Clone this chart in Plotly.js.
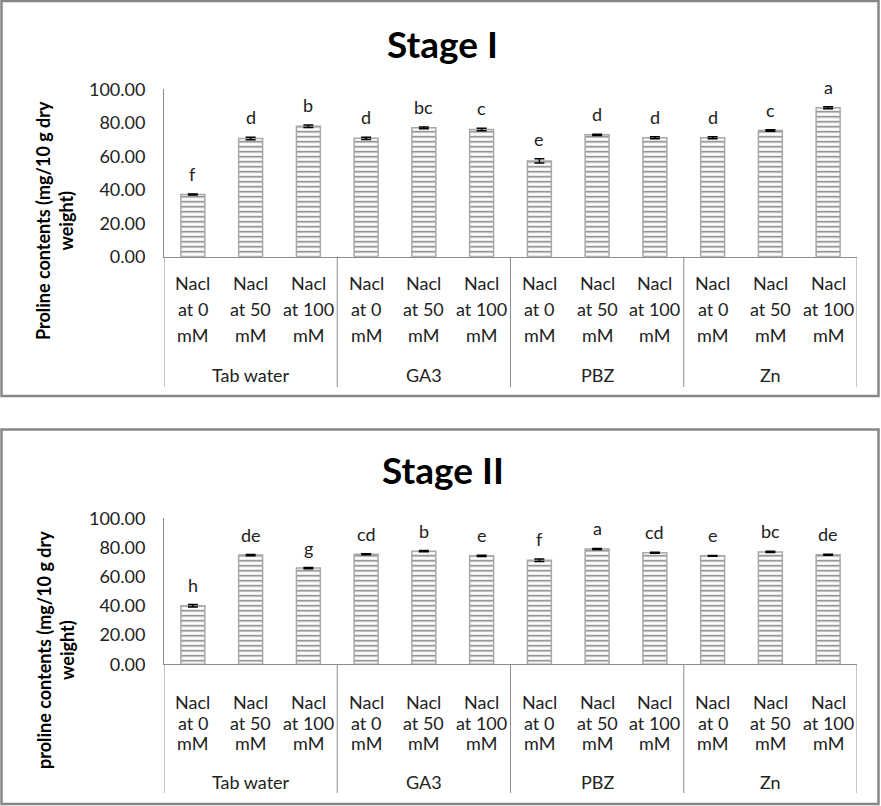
<!DOCTYPE html>
<html>
<head>
<meta charset="utf-8">
<script src="https://cdn.plot.ly/plotly-3.0.1.min.js"></script>
<style>html,body{margin:0;padding:0;background:#fff;}#chart{width:881px;height:806px;}</style>
</head>
<body>
<div id="chart"></div>
<script>
// ---- data ----
const groups = ["Tab water", "GA3", "PBZ", "Zn"];
const levels = ["Nacl<br>at 0<br>mM", "Nacl<br>at 50<br>mM", "Nacl<br>at 100<br>mM"];
const stage1Values = [37.2, 70.6, 77.9, 70.7, 77.0, 76.0, 57.2, 72.8, 71.0, 71.0, 75.4, 89.0];
const stage1Errors = [0.3, 0.7, 0.7, 0.7, 0.5, 0.7, 1.3, 0.4, 0.6, 0.6, 0.4, 0.6];
const stage1Letters = ["f", "d", "b", "d", "bc", "c", "e", "d", "d", "d", "c", "a"];
const stage2Values = [40.1, 74.8, 65.9, 75.4, 77.5, 74.3, 71.3, 79.0, 76.4, 74.3, 77.0, 75.0];
const stage2Errors = [0.8, 0.4, 0.4, 0.3, 0.4, 0.4, 0.9, 0.4, 0.4, 0.3, 0.4, 0.3];
const stage2Letters = ["h", "de", "g", "cd", "b", "e", "f", "a", "cd", "e", "bc", "de"];
const stageTitles = ["Stage I", "Stage II"];
const yTitles = ["Proline contents (mg/10 g dry<br>weight)", "proline contents (mg/10 g dry<br>weight)"];

// ---- layout helpers ----
const W = 881, H = 806;
const px = x => x / W;
const py = y => 1 - y / H;
const FONT = "Lato, 'Liberation Sans', sans-serif";

const cats = [];
groups.forEach(g => levels.forEach(l => cats.push(l)));
const idx = cats.map((_, i) => i);

const stages = [
  {vals: stage1Values, errs: stage1Errors, letters: stage1Letters, xa: 'x', ya: 'y',
   top: 89.3, bottom: 256.7, lineYs: [283, 309.5, 335], groupY: 375, sepBottom: 387,
   titleY: 44, yTitleY: 221, frame: [1, 396]},
  {vals: stage2Values, errs: stage2Errors, letters: stage2Letters, xa: 'x2', ya: 'y2',
   top: 518.3, bottom: 664.3, lineYs: [702, 723, 743], groupY: 782, sepBottom: 793,
   titleY: 470, yTitleY: 650, frame: [429.5, 804]}
];

const data = [];
const annotations = [];
const shapes = [];
const layout = {
  width: W, height: H,
  margin: {l: 0, r: 0, t: 0, b: 0},
  paper_bgcolor: '#fff', plot_bgcolor: '#fff',
  showlegend: false,
  bargap: 0.585,
  font: {family: FONT, size: 18, color: '#222'},
  annotations: annotations,
  shapes: shapes
};

stages.forEach((s, k) => {
  data.push({
    type: 'bar', x: idx, y: s.vals, xaxis: s.xa, yaxis: s.ya,
    marker: {
      color: '#ffffff',
      pattern: {shape: '-', fgcolor: '#7a7a7a', bgcolor: '#ffffff', size: 5, solidity: 0.3},
      line: {color: '#a8a8a8', width: 1.5}
    },
    error_y: {type: 'data', array: s.errs, visible: true, color: '#000', thickness: 1.5, width: 5},
    hoverinfo: 'skip'
  });
  const xName = k === 0 ? 'xaxis' : 'xaxis2';
  const yName = k === 0 ? 'yaxis' : 'yaxis2';
  layout[xName] = {
    domain: [px(164), px(857)], range: [-0.5, 11.5], anchor: s.ya,
    showticklabels: false, ticks: '', showgrid: false, zeroline: false,
    showline: true, linecolor: '#8c8c8c', linewidth: 1, fixedrange: true
  };
  layout[yName] = {
    domain: [py(s.bottom), py(s.top)], range: [0, 100], anchor: s.xa,
    dtick: 20, tickformat: '.2f', ticks: '', ticklabelstandoff: 14,
    tickfont: {family: FONT, size: 18, color: '#222'},
    showgrid: false, zeroline: false,
    showline: true, linecolor: '#8c8c8c', linewidth: 1, fixedrange: true
  };
  // title
  annotations.push({
    text: '<b>' + stageTitles[k] + '</b>', xref: 'paper', yref: 'paper',
    x: px(443), y: py(s.titleY), xanchor: 'center', yanchor: 'middle',
    showarrow: false, font: {family: FONT, size: 37, color: '#000'}
  });
  // y title
  annotations.push({
    text: '<b>' + yTitles[k] + '</b>', xref: 'paper', yref: 'paper',
    x: px(55), y: py(s.yTitleY), xanchor: 'center', yanchor: 'middle',
    textangle: -90, showarrow: false, font: {family: FONT, size: 18, color: '#000'}
  });
  // letters above bars
  s.vals.forEach((v, i) => {
    annotations.push({
      text: s.letters[i], xref: s.xa, yref: s.ya, x: i, y: v + s.errs[i],
      yanchor: 'middle', yshift: 20, showarrow: false,
      font: {family: FONT, size: 18, color: '#222'}
    });
  });
  // category labels (one annotation per line)
  cats.forEach((c, i) => {
    c.split('<br>').forEach((line, j) => {
      annotations.push({
        text: line, xref: s.xa, yref: 'paper', x: i, y: py(s.lineYs[j]),
        xanchor: 'center', yanchor: 'middle', showarrow: false,
        font: {family: FONT, size: 18, color: '#222'}
      });
    });
  });
  // group labels
  groups.forEach((g, gi) => {
    annotations.push({
      text: g, xref: s.xa, yref: 'paper', x: gi * levels.length + (levels.length - 1) / 2,
      y: py(s.groupY), xanchor: 'center', yanchor: 'middle', showarrow: false,
      font: {family: FONT, size: 18, color: '#222'}
    });
  });
  // separators
  for (let gi = 0; gi <= groups.length; gi++) {
    const xv = gi * levels.length - 0.5;
    shapes.push({
      type: 'line', xref: s.xa, yref: 'paper', x0: xv, x1: xv,
      y0: py(s.bottom), y1: py(s.sepBottom), line: {color: '#8c8c8c', width: 1}
    });
  }
  // frame
  shapes.push({
    type: 'rect', xref: 'paper', yref: 'paper',
    x0: px(1.5), x1: px(878.5), y0: py(s.frame[0]), y1: py(s.frame[1]),
    line: {color: '#868686', width: 2.5}, fillcolor: 'rgba(0,0,0,0)'
  });
});

Plotly.newPlot('chart', data, layout, {displayModeBar: false, staticPlot: true});
</script>
</body>
</html>
